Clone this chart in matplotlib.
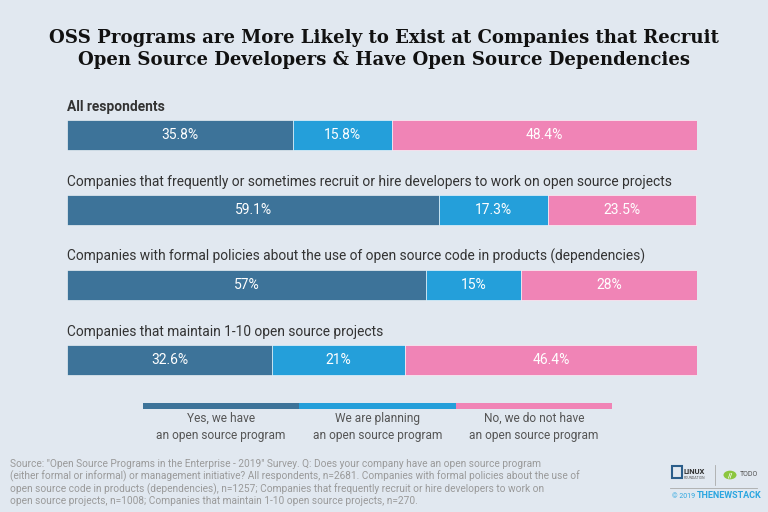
import matplotlib.pyplot as plt
from matplotlib.patches import Rectangle, Circle

plt.rcParams['font.family'] = ['Roboto', 'DejaVu Sans']

# data
groups = [
    "All respondents",
    "Companies that frequently or sometimes recruit or hire developers to work on open source projects",
    "Companies with formal policies about the use of open source code in products (dependencies)",
    "Companies that maintain 1-10 open source projects",
]
yes_vals = [35.8, 59.1, 57, 32.6]
plan_vals = [15.8, 17.3, 15, 21]
no_vals = [48.4, 23.5, 28, 46.4]
value_labels = [
    ["35.8%", "15.8%", "48.4%"],
    ["59.1%", "17.3%", "23.5%"],
    ["57%", "15%", "28%"],
    ["32.6%", "21%", "46.4%"],
]
legend_labels = [
    "Yes, we have\nan open source program",
    "We are planning\nan open source program",
    "No, we do not have\nan open source program",
]
colors = ["#3d7399", "#249fda", "#f084b6"]
bg = "#e1e8f0"

W, H = 768, 512
fig = plt.figure(figsize=(7.68, 5.12), dpi=100)
fig.patch.set_facecolor(bg)

title_font = ['DejaVu Serif']
fig.text(0.5, 1 - 38 / H, "OSS Programs are More Likely to Exist at Companies that Recruit",
         ha="center", va="center", fontsize=13.05, fontweight="bold", color="#111111", family=title_font)
fig.text(0.5, 1 - 60 / H, "Open Source Developers & Have Open Source Dependencies",
         ha="center", va="center", fontsize=13.05, fontweight="bold", color="#111111", family=title_font)

# main bars
ax = fig.add_axes([67 / W, 1 - 397.5 / H, 630 / W, 300 / H])
ax.set_facecolor(bg)
ys = list(range(len(groups)))
left = [0] * len(groups)
for series, col, k in zip([yes_vals, plan_vals, no_vals], colors, range(3)):
    ax.barh(ys, series, left=left, height=0.4, color=col, edgecolor="white", linewidth=0.4)
    for i, v in enumerate(series):
        ax.text(left[i] + v / 2, i, value_labels[i][k], ha="center", va="center",
                color="white", fontsize=10)
    left = [l + v for l, v in zip(left, series)]
for i, g in enumerate(groups):
    ax.text(0, i - 0.285, g, ha="left", va="bottom", fontsize=9.95,
            color="#333333", fontweight="bold" if i == 0 else "normal")
ax.set_xlim(0, sum([yes_vals[0], plan_vals[0], no_vals[0]]))
ax.set_ylim(3.5, -0.5)
ax.axis("off")

# legend bar
lax = fig.add_axes([143 / W, 1 - 409 / H, 469 / W, 6 / H])
lax.barh([0] * 3, [1, 1, 1], left=[0, 1, 2], height=1, color=colors)
lax.set_xlim(0, 3)
lax.set_ylim(-0.5, 0.5)
lax.axis("off")
for k, lab in enumerate(legend_labels):
    fig.text((143 + 469 * (k + 0.5) / 3) / W, 1 - 427 / H, lab, ha="center", va="center",
             fontsize=8.6, color="#555555", linespacing=1.35)

source = ("Source: \"Open Source Programs in the Enterprise - 2019\" Survey. Q: Does your company have an open source program\n"
          "(either formal or informal) or management initiative? All respondents, n=2681. Companies with formal policies about the use of\n"
          "open source code in products (dependencies), n=1257; Companies that frequently recruit or hire developers to work on\n"
          "open source projects, n=1008; Companies that maintain 1-10 open source projects, n=270.")
fig.text(10 / W, 1 - 459 / H, source, ha="left", va="top", fontsize=7.3, color="#9a9a9a",
         linespacing=1.15)

# logos (approximation)
fig.patches.append(Rectangle((672 / W, 1 - 478 / H), 10 / W, 12 / H, transform=fig.transFigure,
                             facecolor="none", edgecolor="#2a5d8a", linewidth=1.5))
fig.text(684 / W, 1 - 472 / H, "LINUX", fontsize=5.5, fontweight="bold", color="#333333", va="center")
fig.text(684 / W, 1 - 478 / H, "FOUNDATION", fontsize=2.5, color="#555555", va="center")
fig.lines.append(plt.Line2D([715 / W, 715 / W], [1 - 465 / H, 1 - 485 / H], transform=fig.transFigure,
                            color="#aaaaaa", linewidth=0.6))
fig.patches.append(Circle((730 / W, 1 - 475 / H), 6.5 / W, transform=fig.transFigure,
                          facecolor="#8cc63f", edgecolor="none"))
fig.text(730 / W, 1 - 475 / H, "//", fontsize=5, color="white", ha="center", va="center", fontweight="bold")
fig.text(740 / W, 1 - 475 / H, "TODO", fontsize=5, color="#555555", va="center")
fig.lines.append(plt.Line2D([670 / W, 757 / W], [1 - 488 / H, 1 - 488 / H], transform=fig.transFigure,
                            color="#aaaaaa", linewidth=0.6))
fig.text(672 / W, 1 - 496 / H, "© 2019", fontsize=5, color="#2ba6e0", va="center")
fig.text(697 / W, 1 - 496 / H, "THENEWSTACK", fontsize=6.5, fontweight="bold", color="#2ba6e0", va="center")

fig.savefig("out.png", dpi=100, facecolor=bg)
